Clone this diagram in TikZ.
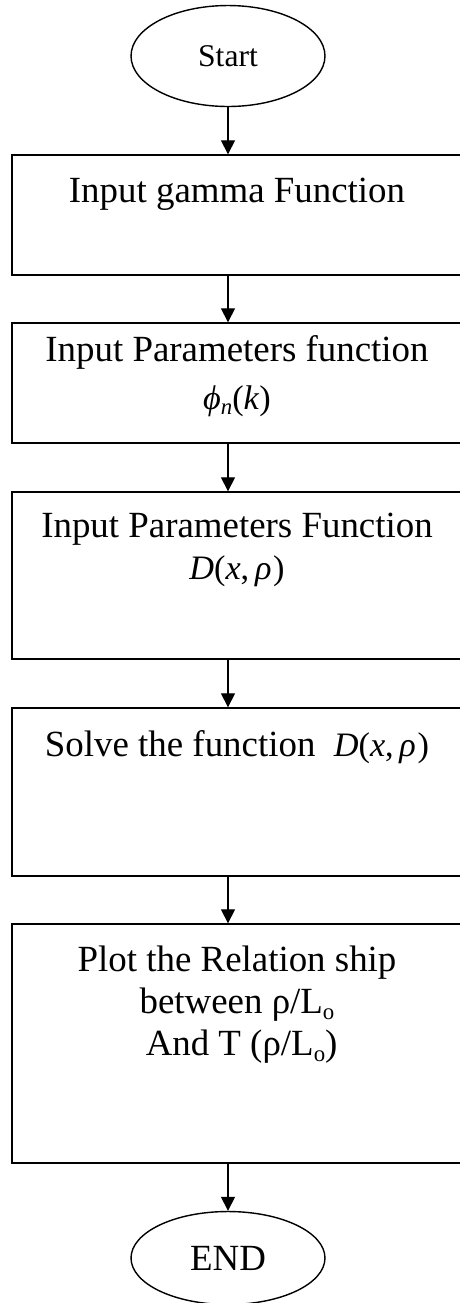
\documentclass[tikz,border=0pt]{standalone}
\usepackage{fontspec}
\setmainfont{Liberation Serif}
\usetikzlibrary{shapes.geometric,arrows.meta,positioning}

\newcommand{\lowsub}[1]{\raisebox{-0.35ex}{\fontsize{13}{13}\selectfont #1}}

\begin{document}
\begin{tikzpicture}[
    x=0.02cm, y=-0.02cm,
    line width=0.8pt,
    terminal/.style={ellipse, draw=black, minimum width=3.88cm, minimum height=2.02cm, inner sep=0pt},
    stepbox/.style={rectangle, draw=black, minimum width=9cm, inner sep=0pt},
    steptext/.style={anchor=north, align=center, inner sep=0pt, font=\fontsize{21}{24}\selectfont},
    arr/.style={-{Triangle[width=8pt,length=8pt]}}
]
\clip (0,0) rectangle (460,1303);

% Start and end
\node[terminal, font=\fontsize{18}{20}\selectfont] (start) at (228,56) {Start};
\node[terminal, minimum height=1.86cm, font=\fontsize{21}{24}\selectfont] (end) at (228,1258) {END};

% Process boxes
\node[stepbox, minimum height=2.4cm] (gamma) at (237,215) {};
\node[stepbox, minimum height=2.4cm] (phi) at (237,383) {};
\node[stepbox, minimum height=3.34cm] (dparam) at (237,575.5) {};
\node[stepbox, minimum height=3.36cm] (solve) at (237,792) {};
\node[stepbox, minimum height=4.78cm] (plot) at (237,1043.5) {};

% Box texts
\node[steptext] (gammatext) at (237,177) {Input gamma Function};
\node[steptext] (phitext) at (237,335) {Input Parameters function\\[3pt]
    {\fontsize{19.5}{20}\selectfont\textit{ϕ}\lowsub{\textit{n}}(\textit{k})}};
\node[steptext] (dparamtext) at (237,512) {Input Parameters Function\\
    {\fontsize{19.5}{20}\selectfont\textit{D}(\textit{x},\,\textit{ρ}\kern1pt)}};
\node[steptext] (solvetext) at (237,730) {Solve the function\ \
    {\fontsize{19.5}{20}\selectfont\textit{D}(\textit{x},\,\textit{ρ}\kern1pt)}};
\node[steptext] (plottext) at (237,945) {Plot the Relation ship\\
    between ρ/L\lowsub{o}\\
    \ And T (ρ/L\lowsub{o})};

% Arrows
\draw[arr] (start.south) -- (start.south |- gamma.north);
\draw[arr] (gamma.south -| start) -- (phi.north -| start);
\draw[arr] (phi.south -| start) -- (dparam.north -| start);
\draw[arr] (dparam.south -| start) -- (solve.north -| start);
\draw[arr] (solve.south -| start) -- (plot.north -| start);
\draw[arr] (plot.south -| start) -- (end.north);

\end{tikzpicture}
\end{document}
